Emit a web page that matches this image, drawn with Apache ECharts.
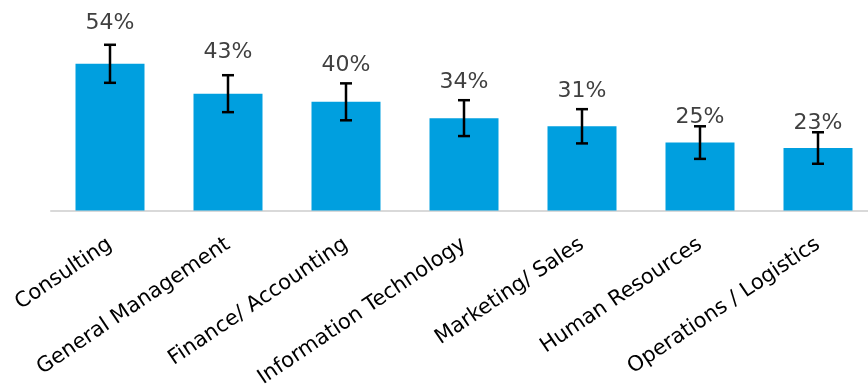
<!DOCTYPE html>
<html>
<head>
<meta charset="utf-8">
<script src="https://cdn.jsdelivr.net/npm/echarts@6/dist/echarts.min.js"></script>
<style>
  html, body { margin: 0; padding: 0; background: #fff; }
  .box { width: 868px; height: 387px; }
</style>
</head>
<body>
<div class="box"></div>
<script>
// categories, values (%) and error margins (%)
var categories = ["Consulting", "General Management", "Finance/ Accounting", "Information Technology",
                  "Marketing/ Sales", "Human Resources", "Operations / Logistics"];
var values = [54, 43, 40, 34, 31, 25, 23];
var errors = [7.0, 6.8, 6.8, 6.6, 6.3, 6.0, 5.8];

// gap (px) between the top of each error bar and its value label
var labelGap = [11, 12, 7, 7, 7, -2, -2];

(function () {
    var myChart = echarts.init(document.querySelector(".box"));

    // error bar data: [index, low, high, value]
    var errData = values.map(function (v, i) {
        return [i, v - errors[i], v + errors[i], v];
    });

    var option = {
        animation: false,
        grid: { left: 51, width: 826, top: 47.5, height: 163, outerBoundsMode: "none" },
        xAxis: {
            type: "category",
            data: categories,
            axisLine: { lineStyle: { color: "#d9d9d9", width: 2 } },
            axisTick: { show: false },
            axisLabel: {
                interval: 0,
                rotate: 34,
                margin: 32,
                color: "#000",
                fontFamily: "DejaVu Sans",
                fontSize: 21
            }
        },
        yAxis: {
            type: "value",
            min: 0,
            max: 60,
            show: false,
            splitLine: { show: false }
        },
        series: [
            {
                type: "bar",
                data: values,
                barWidth: 69,
                itemStyle: { color: "#009FDF" }
            },
            {
                type: "custom",
                data: errData,
                encode: { x: 0, y: [1, 2] },
                z: 5,
                renderItem: function (params, api) {
                    var x = api.value(0);
                    var lo = api.coord([x, api.value(1)]);
                    var hi = api.coord([x, api.value(2)]);
                    var cap = 6;
                    var style = { stroke: "#000", lineWidth: 2.5 };
                    return {
                        type: "group",
                        children: [
                            { type: "line", shape: { x1: hi[0], y1: hi[1], x2: lo[0], y2: lo[1] }, style: style },
                            { type: "line", shape: { x1: hi[0] - cap, y1: hi[1], x2: hi[0] + cap, y2: hi[1] }, style: style },
                            { type: "line", shape: { x1: lo[0] - cap, y1: lo[1], x2: lo[0] + cap, y2: lo[1] }, style: style },
                            {
                                type: "text",
                                z2: 10,
                                style: {
                                    x: hi[0],
                                    y: hi[1] - labelGap[params.dataIndex],
                                    text: api.value(3) + "%",
                                    fill: "#404040",
                                    font: "22px 'DejaVu Sans'",
                                    align: "center",
                                    verticalAlign: "bottom"
                                }
                            }
                        ]
                    };
                }
            }
        ]
    };

    myChart.setOption(option);

    window.addEventListener("resize", function () {
        myChart.resize();
    });
})();
</script>
</body>
</html>
